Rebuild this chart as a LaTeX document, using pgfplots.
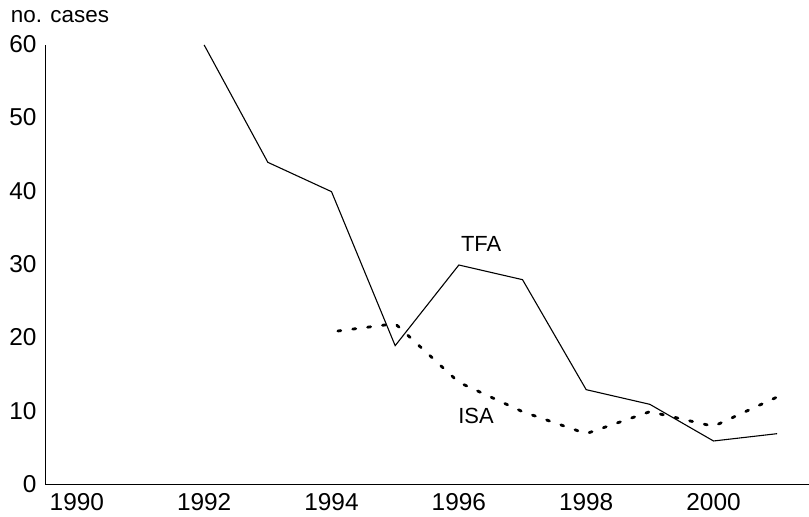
\documentclass[border=0pt]{standalone}
\usepackage{pgfplots}
\pgfplotsset{compat=1.18}
\usepackage{fontspec}
\setmainfont{Liberation Sans}
\begin{document}
\begin{tikzpicture}[x=1bp,y=1bp]
\path[use as bounding box] (0,0) rectangle (809,517);
\begin{axis}[
  at={(45bp,32bp)}, anchor=origin,
  scale only axis, width=764bp, height=440bp,
  xmin=1989.5, xmax=2001.5, ymin=0, ymax=60,
  axis x line=bottom, axis y line=left,
  axis line style={-, line width=1bp, black},
  xtick={1990,1992,...,2000}, ytick={0,10,...,60},
  major tick length=0pt,
  tick label style={font=\fontsize{24.5}{28}\selectfont},
  /pgf/number format/assume math mode=true,
  xticklabel style={/pgf/number format/1000 sep=, inner sep=0pt, yshift=-8bp},
  yticklabel style={xshift=-5bp, yshift=1bp},
  clip=false,
]
\addplot[black, line width=1.1bp, line join=miter] coordinates {
(1992,60) (1993,44) (1994,40) (1995,19) (1996,30) (1997,28) (1998,13) (1999,11) (2000,6) (2001,7)};
\addplot[black, line width=2.8bp, line cap=round, dash pattern=on 3bp off 12bp] coordinates {
(1994.1,21) (1995,22) (1996,14) (1997,10) (1998,7) (1999,10) (2000,8) (2001,12)};
\node[font=\fontsize{22}{26}\selectfont] at (axis cs:1996.35,32.9) {TFA};
\node[font=\fontsize{22}{26}\selectfont] at (axis cs:1996.27,9.4) {ISA};
\end{axis}
\node[font=\fontsize{22.5}{26}\selectfont, inner sep=1bp] at (60,500) {no. cases};
\end{tikzpicture}
\end{document}
